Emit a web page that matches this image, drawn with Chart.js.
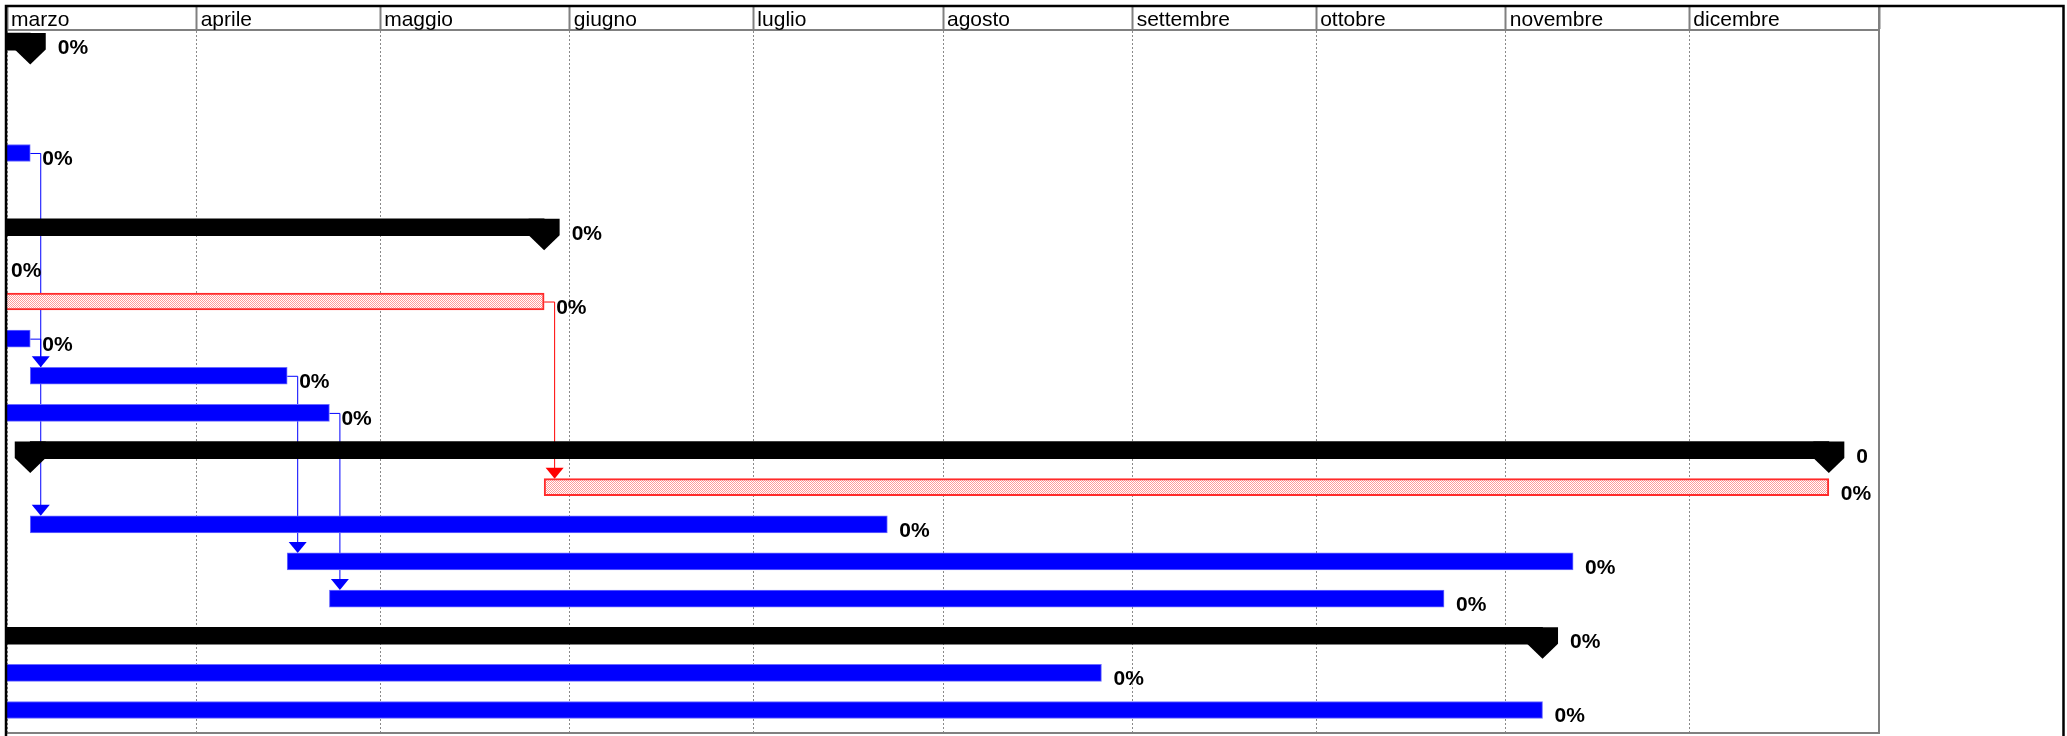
<!DOCTYPE html>
<html lang="it">
<head>
<meta charset="utf-8">
<title>Gantt</title>
<script src="https://cdn.jsdelivr.net/npm/chart.js@4.4.1/dist/chart.umd.min.js"></script>
<style>
    html, body { margin: 0; padding: 0; background: #fff; }
    #wrap { width: 2067px; height: 736px; }
</style>
</head>
<body>
<div id="wrap"><canvas id="gantt" width="2067" height="736"></canvas></div>
<script>
// mesi: giorni contati dal 1 marzo
const monthLabels = ['marzo', 'aprile', 'maggio', 'giugno', 'luglio', 'agosto', 'settembre', 'ottobre', 'novembre', 'dicembre'];
const monthStarts = [0, 31, 61, 92, 122, 153, 184, 214, 245, 275, 306];

// attività normali (blu)
const taskRows = [3, 6, 8, 9, 10, 13, 14, 15, 17, 18];
const taskStart = [-5, -6, -5, 3.8, -5, 3.8, 45.8, 52.7, -5, -5];
const taskEnd = [3.8, -1.3, 3.8, 45.8, 52.7, 143.9, 256.0, 234.9, 178.9, 251.0];
const taskText = ['0%', '0%', '0%', '0%', '0%', '0%', '0%', '0%', '0%', '0%'];

// attività critiche (rosse)
const critRows = [7, 12];
const critStart = [-5, 87.8];
const critEnd = [87.8, 297.8];
const critText = ['0%', '0%'];

// attività riepilogative (nere)
const sumRows = [0, 5, 11, 16];
const sumStart = [-5, -5, 3.8, -5];
const sumEnd = [3.8, 87.8, 297.8, 251.0];
const sumText = ['0%', '0%', '0', '0%'];

// collegamenti fine-inizio [riga predecessore, riga successore]
const links = [[3, 13], [8, 9], [9, 14], [10, 15], [7, 12]];

const BAR = 17;

/**
 * trama a puntini per le barre critiche
 */
function makeHatch() {
    const c = document.createElement('canvas');
    c.width = 2;
    c.height = 2;
    const g = c.getContext('2d');
    g.fillStyle = '#ffffff';
    g.fillRect(0, 0, 2, 2);
    g.fillStyle = '#ff9a9a';
    g.fillRect(0, 0, 1, 1);
    g.fillRect(1, 1, 1, 1);
    return g.createPattern(c, 'repeat');
}

// indice riga -> attività
const rowInfo = {};
taskRows.forEach((r, i) => { rowInfo[r] = { start: taskStart[i], end: taskEnd[i], color: '#0000ff' }; });
critRows.forEach((r, i) => { rowInfo[r] = { start: critStart[i], end: critEnd[i], color: '#ff0000' }; });

const ganttDecor = {
    id: 'ganttDecor',
    beforeDatasetsDraw(chart) {
        const { ctx, chartArea: a, scales: { x, y } } = chart;
        ctx.save();
        ctx.beginPath();
        ctx.rect(a.left, a.top, a.right - a.left, a.bottom - a.top);
        ctx.clip();
        ctx.lineWidth = 1;
        links.forEach(([p, s]) => {
            const pred = rowInfo[p];
            const succ = rowInfo[s];
            const x0 = x.getPixelForValue(pred.end);
            const xa = x0 + 10;
            const y0 = y.getPixelForValue(p);
            const top = y.getPixelForValue(s) - BAR / 2;
            ctx.strokeStyle = succ.color;
            ctx.fillStyle = succ.color;
            ctx.beginPath();
            ctx.moveTo(x0, y0 + 0.5);
            ctx.lineTo(xa + 0.5, y0 + 0.5);
            ctx.lineTo(xa + 0.5, top - 8);
            ctx.stroke();
            ctx.beginPath();
            ctx.moveTo(xa + 0.5 - 9, top - 11);
            ctx.lineTo(xa + 0.5 + 9, top - 11);
            ctx.lineTo(xa + 0.5, top);
            ctx.closePath();
            ctx.fill();
        });
        ctx.restore();
    },
    afterDatasetsDraw(chart) {
        const { ctx, chartArea: a, scales: { x, y } } = chart;
        ctx.save();
        ctx.beginPath();
        ctx.rect(a.left, a.top, a.right - a.left, a.bottom - a.top);
        ctx.clip();

        // pentagoni dei riepiloghi
        ctx.fillStyle = '#000';
        sumRows.forEach((r, i) => {
            const c = y.getPixelForValue(r);
            [sumStart[i], sumEnd[i]].forEach((d) => {
                const px = x.getPixelForValue(d);
                ctx.beginPath();
                ctx.moveTo(px - 15.5, c - BAR / 2);
                ctx.lineTo(px + 15.5, c - BAR / 2);
                ctx.lineTo(px + 15.5, c + 8);
                ctx.lineTo(px, c + 23);
                ctx.lineTo(px - 15.5, c + 8);
                ctx.closePath();
                ctx.fill();
            });
        });

        // etichette percentuali
        ctx.font = 'bold 21px "Liberation Sans", Arial, sans-serif';
        ctx.textBaseline = 'alphabetic';
        ctx.textAlign = 'left';
        ctx.fillStyle = '#000';
        taskRows.forEach((r, i) => {
            ctx.fillText(taskText[i], x.getPixelForValue(taskEnd[i]) + 12, y.getPixelForValue(r) + 12.5);
        });
        critRows.forEach((r, i) => {
            ctx.fillText(critText[i], x.getPixelForValue(critEnd[i]) + 12, y.getPixelForValue(r) + 12.5);
        });
        sumRows.forEach((r, i) => {
            ctx.fillText(sumText[i], x.getPixelForValue(sumEnd[i]) + 27.5, y.getPixelForValue(r) + 12.5);
        });
        ctx.restore();
    },
    afterDraw(chart) {
        const { ctx, chartArea: a } = chart;
        ctx.save();
        // bordo grigio dell'area
        ctx.strokeStyle = '#808080';
        ctx.lineWidth = 2;
        ctx.beginPath();
        ctx.moveTo(a.right, 6);
        ctx.lineTo(a.right, a.bottom);
        ctx.lineTo(a.left, a.bottom);
        ctx.stroke();
        // cornice nera
        ctx.strokeStyle = '#000';
        ctx.lineWidth = 2.5;
        ctx.beginPath();
        ctx.moveTo(6, 736);
        ctx.lineTo(6, 6);
        ctx.lineTo(2063.5, 6);
        ctx.lineTo(2063.5, 736);
        ctx.stroke();
        ctx.restore();
    },
};

document.addEventListener('DOMContentLoaded', () => {
    const ctx = document.getElementById('gantt');
    const hatch = makeHatch();

    new Chart(ctx, {
        type: 'bar',
        data: {
            datasets: [
                {
                    label: 'attività',
                    data: taskRows.map((r, i) => ({ x: [taskStart[i], taskEnd[i]], y: r })),
                    backgroundColor: '#0000ff',
                    borderColor: '#6b6bff',
                    borderWidth: 1,
                    borderSkipped: false,
                },
                {
                    label: 'critiche',
                    data: critRows.map((r, i) => ({ x: [critStart[i], critEnd[i]], y: r })),
                    backgroundColor: hatch,
                    borderColor: '#ff2a2a',
                    borderWidth: 2,
                    borderSkipped: false,
                },
                {
                    label: 'riepilogo',
                    data: sumRows.map((r, i) => ({ x: [sumStart[i], sumEnd[i]], y: r })),
                    backgroundColor: '#000000',
                    borderWidth: 0,
                },
            ],
        },
        options: {
            indexAxis: 'y',
            responsive: false,
            maintainAspectRatio: false,
            devicePixelRatio: 1,
            animation: false,
            events: [],
            grouped: false,
            barThickness: BAR,
            layout: {
                padding: { left: 7, right: 188, top: 7, bottom: 3 },
            },
            plugins: {
                legend: { display: false },
                tooltip: { enabled: false },
            },
            scales: {
                x: {
                    type: 'linear',
                    position: 'top',
                    min: 0,
                    max: 306,
                    afterBuildTicks: (scale) => {
                        scale.ticks = monthStarts.map((v) => ({ value: v }));
                    },
                    afterFit: (scale) => {
                        scale.height = 23;
                    },
                    ticks: {
                        callback: (value, index) => monthLabels[index] || '',
                        align: 'start',
                        labelOffset: 4,
                        padding: -26,
                        autoSkip: false,
                        maxRotation: 0,
                        color: '#000',
                        font: { family: '"Liberation Sans", Arial, sans-serif', size: 21 },
                    },
                    grid: {
                        color: '#8a8a8a',
                        lineWidth: 1,
                        drawTicks: true,
                        tickLength: 23,
                        tickColor: '#808080',
                        tickWidth: 2,
                        tickBorderDash: [],
                    },
                    border: {
                        display: true,
                        color: '#808080',
                        width: 2,
                        dash: [2, 2],
                    },
                },
                y: {
                    type: 'linear',
                    reverse: true,
                    min: -0.312,
                    max: 18.62,
                    offset: false,
                    display: false,
                },
            },
        },
        plugins: [ganttDecor],
    });
});
</script>
</body>
</html>
